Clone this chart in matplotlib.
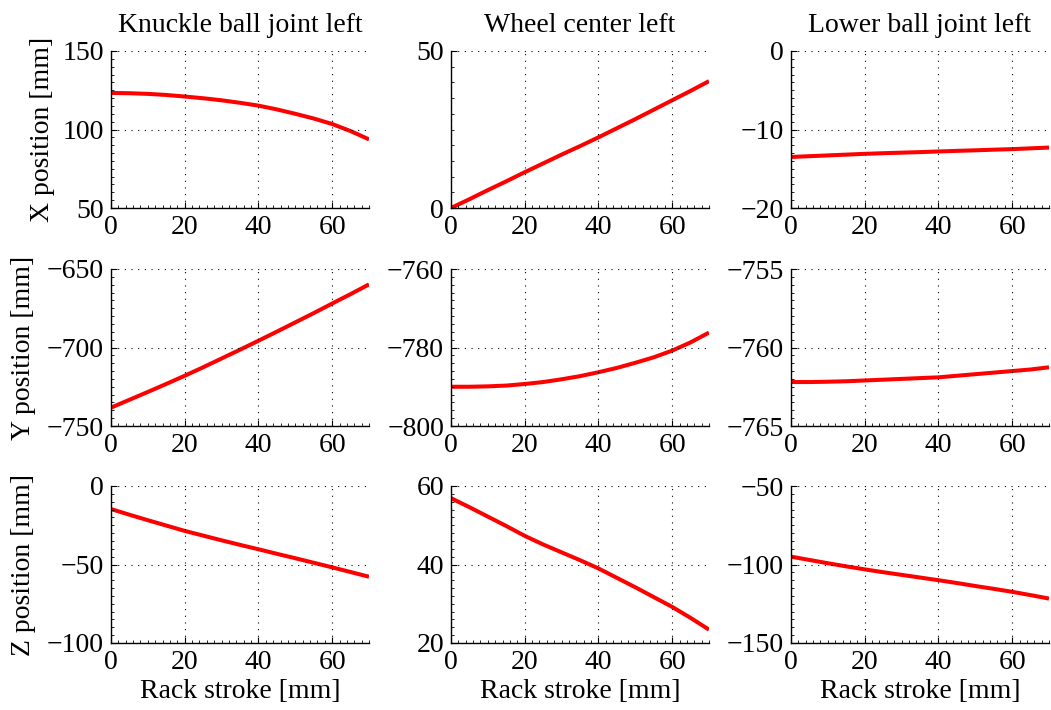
import matplotlib
matplotlib.use("Agg")
import matplotlib.pyplot as plt
from matplotlib.ticker import MultipleLocator, AutoMinorLocator

plt.rcParams['font.family'] = ['Liberation Serif', 'DejaVu Serif']
plt.rcParams['font.size'] = 20
plt.rcParams['axes.unicode_minus'] = True

# Rack stroke samples [mm]
stroke = [0, 5, 10, 15, 20, 25, 30, 35, 40, 45, 50, 55, 60, 65, 70]

point_names = ["Knuckle ball joint left", "Wheel center left", "Lower ball joint left"]
coord_labels = ["X position [mm]", "Y position [mm]", "Z position [mm]"]

# Knuckle ball joint left
knuckle_x = [123.3, 123.1, 122.7, 122.0, 121.0, 119.9, 118.6, 117.0, 115.2,
             112.8, 110.0, 107.0, 103.5, 99.0, 93.7]
knuckle_y = [-738.3, -733.3, -728.3, -723.2, -718.0, -712.6, -707.0, -701.4,
             -695.7, -689.9, -684.0, -678.1, -672.0, -666.0, -659.8]
knuckle_z = [-14.7, -18.3, -21.8, -25.2, -28.6, -31.6, -34.6, -37.5, -40.3,
             -43.2, -46.0, -48.9, -51.8, -54.8, -57.8]

# Wheel center left
wheel_x = [0.0, 2.8, 5.7, 8.5, 11.4, 14.2, 17.0, 19.7, 22.5, 25.4, 28.3,
           31.3, 34.3, 37.3, 40.4]
wheel_y = [-790.0, -790.0, -789.9, -789.7, -789.3, -788.8, -788.1, -787.3,
           -786.3, -785.2, -783.9, -782.5, -780.8, -778.7, -776.2]
wheel_z = [56.9, 54.6, 52.2, 49.8, 47.3, 45.1, 43.1, 41.1, 39.0, 36.6, 34.2,
           31.7, 29.2, 26.4, 23.4]

# Lower ball joint left
lower_x = [-13.5, -13.4, -13.3, -13.2, -13.1, -13.02, -12.95, -12.88, -12.8,
           -12.72, -12.65, -12.57, -12.5, -12.4, -12.3]
lower_y = [-762.2, -762.2, -762.18, -762.15, -762.1, -762.05, -762.0, -761.95,
           -761.9, -761.8, -761.7, -761.6, -761.5, -761.4, -761.26]
lower_z = [-95.0, -97.1, -99.2, -101.2, -103.1, -104.9, -106.6, -108.3,
           -110.0, -111.8, -113.7, -115.5, -117.4, -119.5, -121.7]

series = [
    [knuckle_x, wheel_x, lower_x],
    [knuckle_y, wheel_y, lower_y],
    [knuckle_z, wheel_z, lower_z],
]

# y-axis limits and major tick step per panel
y_limits = [
    [(50, 150), (0, 50), (-20, 0)],
    [(-750, -650), (-800, -760), (-765, -755)],
    [(-100, 0), (20, 60), (-150, -50)],
]
y_steps = [
    [50, 50, 10],
    [50, 20, 5],
    [50, 20, 50],
]

W, H = 1051, 710
fig = plt.figure(figsize=(W / 100, H / 100), dpi=100)

lefts = [111, 451, 791]
tops = [51, 269, 486]
aw, ah = 258, 157
ylabel_right = [55, 36, 36]

for r in range(3):
    for c in range(3):
        ax = fig.add_axes([lefts[c] / W, 1 - (tops[r] + ah) / H, aw / W, ah / H])
        ax.plot(stroke, series[r][c], color='#ff0000', lw=2.9,
                solid_capstyle='butt', solid_joinstyle='round')
        ax.set_xlim(0, 70)
        ax.set_ylim(*y_limits[r][c])
        ax.xaxis.set_major_locator(MultipleLocator(20))
        ax.yaxis.set_major_locator(MultipleLocator(y_steps[r][c]))
        ax.xaxis.set_minor_locator(MultipleLocator(2))
        ax.yaxis.set_minor_locator(AutoMinorLocator(10))
        for side in ('top', 'right'):
            ax.spines[side].set_visible(False)
        for side in ('left', 'bottom'):
            ax.spines[side].set_linewidth(1.0)
            ax.spines[side].set_color('black')
        ax.tick_params(which='major', direction='in', length=4, width=0.8,
                       labelsize=20)
        ax.tick_params(axis='x', which='major', pad=5)
        ax.tick_params(axis='y', which='major', pad=5)
        ax.tick_params(which='minor', direction='in', length=2, width=0.6)
        ax.grid(True, which='major', color='black', linestyle=(0, (1, 5)),
                linewidth=0.8)
        ax.set_axisbelow(False)
        if r == 0:
            ax.set_title(point_names[c], fontsize=20, pad=14)
        if c == 0:
            ax.set_ylabel(coord_labels[r], fontsize=20)
            ax.yaxis.set_label_coords((ylabel_right[r] - lefts[c]) / aw, 0.5)
        if r == 2:
            ax.set_xlabel("Rack stroke [mm]", fontsize=20, labelpad=3)

fig.savefig("out.png", dpi=100)
